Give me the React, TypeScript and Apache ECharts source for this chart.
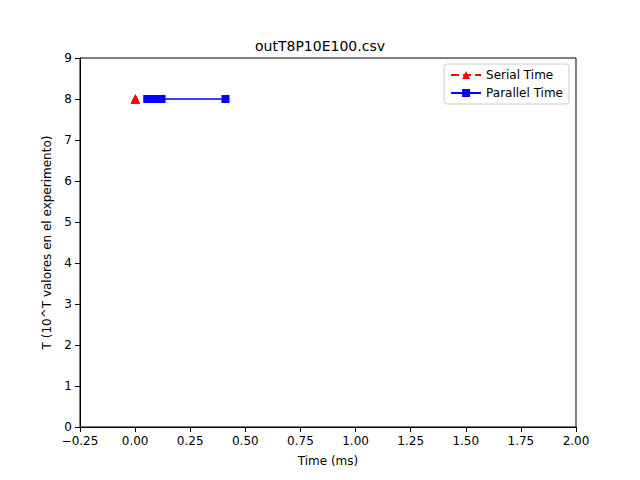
import React, { useEffect, useRef } from "react";
import * as echarts from "echarts";

const serialTimes = [0.001, 0.0012, 0.0011, 0.0013, 0.001];
const serialT = [8, 8, 8, 8, 8];
const parallelTimes = [0.41, 0.12, 0.1, 0.09, 0.08, 0.07, 0.065, 0.06, 0.055];
const parallelT = [8, 8, 8, 8, 8, 8, 8, 8, 8];

export default function App() {
  const ref = useRef<HTMLDivElement>(null);
  useEffect(() => {
    const chart = echarts.init(ref.current!, null, { renderer: "svg" });
    const font = "DejaVu Sans";
    chart.setOption({
      animation: false,
      textStyle: { fontFamily: font },
      title: { text: "outT8P10E100.csv", left: "center", top: 34, textStyle: { fontSize: 14, fontWeight: "normal", color: "#000", fontFamily: font } },
      grid: { left: 80, right: 64, top: 58, bottom: 53, show: true, borderColor: "#000", borderWidth: 1, backgroundColor: "transparent" },
      legend: {
        right: 71, top: 64, orient: "vertical", itemGap: 6, itemWidth: 30, itemHeight: 10,
        backgroundColor: "#fff", borderColor: "#ccc", borderWidth: 1, borderRadius: 3, padding: [5, 6],
        textStyle: { fontSize: 12, color: "#000", fontFamily: font },
        data: ["Serial Time", "Parallel Time"],
      },
      xAxis: {
        type: "value", min: -0.25, max: 2, interval: 0.25,
        name: "Time (ms)", nameLocation: "middle", nameGap: 28, nameTextStyle: { fontSize: 12, color: "#000" },
        axisLine: { onZero: false, lineStyle: { color: "#000" } }, axisTick: { lineStyle: { color: "#000" } },
        axisLabel: { color: "#000", fontSize: 12, formatter: (v: number) => v.toFixed(2).replace("-", "\u2212") },
        splitLine: { show: false },
      },
      yAxis: {
        type: "value", min: 0, max: 9, interval: 1,
        name: "T (10^T valores en el experimento)", nameLocation: "middle", nameGap: 26, nameTextStyle: { fontSize: 12, color: "#000" },
        axisLine: { show: true, onZero: false, lineStyle: { color: "#000" } }, axisTick: { show: true, lineStyle: { color: "#000" } },
        axisLabel: { color: "#000", fontSize: 12 },
        splitLine: { show: false },
      },
      series: [
        {
          name: "Serial Time", type: "line", data: serialTimes.map((x, i) => [x, serialT[i]]),
          symbol: "triangle", symbolSize: 9, itemStyle: { color: "red" },
          lineStyle: { color: "red", type: "dashed", width: 1.5 },
        },
        {
          name: "Parallel Time", type: "line", data: parallelTimes.map((x, i) => [x, parallelT[i]]),
          symbol: "rect", symbolSize: 8, itemStyle: { color: "blue" },
          lineStyle: { color: "blue", width: 1.5 },
        },
      ],
    });
    return () => chart.dispose();
  }, []);
  return <div ref={ref} style={{ width: 640, height: 480, position: "absolute", left: 0, top: 0 }} />;
}
